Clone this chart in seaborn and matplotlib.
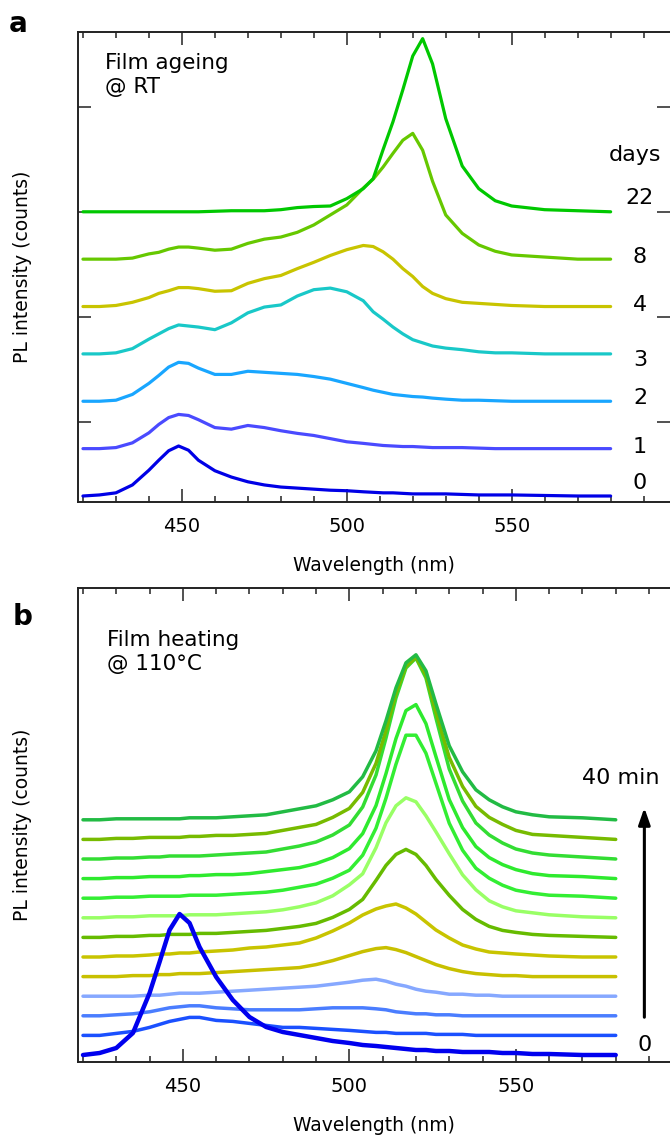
import numpy as np
import seaborn as sns
import matplotlib.pyplot as plt
from matplotlib.ticker import MultipleLocator

# ---- panel a: film ageing at RT (PL counts above background) ----
WL_A = [420, 425, 430, 435, 440, 443, 446, 449, 452, 455, 460, 465, 470, 475, 480,
        485, 490, 495, 500, 505, 508, 511, 514, 517, 520, 523, 526, 530, 535, 540,
        545, 550, 560, 570, 580]
DAYS = ['0', '1', '2', '3', '4', '8', '22']
DAY0 = [0, 10, 30, 105, 245, 340, 430, 475, 435, 340, 240, 180, 135, 105, 85,
        75, 65, 55, 50, 40, 35, 30, 30, 25, 20, 20, 20, 20, 15, 10, 10, 10, 5, 0, 0]
DAY1 = [0, 0, 10, 55, 150, 230, 295, 325, 315, 275, 200, 185, 220, 200, 170,
        145, 125, 95, 65, 50, 40, 30, 25, 20, 20, 15, 10, 10, 10, 5, 0, 0, 0, 0, 0]
DAY2 = [0, 0, 10, 65, 170, 245, 325, 370, 360, 315, 255, 255, 285, 275, 265,
        255, 235, 210, 170, 130, 105, 85, 65, 55, 45, 40, 30, 20, 10, 10, 5, 0, 0, 0, 0]
DAY3 = [0, 0, 10, 50, 140, 190, 240, 275, 265, 255, 230, 295, 390, 445, 465,
        550, 610, 625, 590, 505, 400, 330, 255, 190, 135, 105, 75, 55, 40, 20, 10, 10, 0, 0, 0]
DAY4 = [0, 0, 10, 40, 85, 125, 150, 180, 180, 170, 145, 150, 220, 265, 295,
        360, 420, 485, 540, 580, 570, 520, 450, 360, 285, 190, 125, 75, 40, 30, 20, 10, 0, 0, 0]
DAY8 = [0, 0, 0, 10, 50, 65, 95, 115, 115, 105, 85, 95, 150, 190, 210,
        255, 325, 420, 515, 675, 760, 875, 1005, 1130, 1195, 1035, 740, 420, 245, 135, 75, 40, 20, 0, 0]
DAY22 = [0, 0, 0, 0, 0, 0, 0, 0, 0, 0, 5, 10, 10, 10, 20,
         40, 50, 55, 125, 220, 315, 590, 855, 1160, 1480, 1645, 1405, 885, 435, 220, 105, 55, 20, 10, 0]
SPEC_A = [DAY0, DAY1, DAY2, DAY3, DAY4, DAY8, DAY22]
COLORS_A = ['#0000e6', '#4a4aff', '#19a6ff', '#19c8c8', '#c8c400', '#66c800', '#00c800']

# ---- panel b: film heating at 110 C, 0 -> 40 min ----
WL_B = [420, 425, 430, 435, 440, 443, 446, 449, 452, 455, 460, 465, 470, 475, 480,
        485, 490, 495, 500, 504, 508, 511, 514, 517, 520, 523, 526, 530, 534, 538,
        542, 546, 550, 555, 560, 570, 580]
HEAT = [
    [0, 20, 70, 220, 620, 930, 1250, 1410, 1320, 1080, 780, 550, 380, 280, 230, 200, 170, 140, 120,
     100, 90, 80, 70, 60, 50, 50, 40, 40, 30, 30, 30, 20, 20, 10, 10, 0, 0],
    [0, 0, 20, 40, 80, 110, 140, 160, 180, 180, 150, 140, 120, 100, 80, 80, 70, 60, 50,
     40, 30, 30, 20, 20, 20, 20, 10, 10, 10, 0, 0, 0, 0, 0, 0, 0, 0],
    [0, 0, 10, 20, 40, 60, 80, 90, 100, 100, 80, 70, 60, 60, 60, 60, 70, 80, 80,
     80, 70, 60, 40, 30, 20, 20, 10, 10, 0, 0, 0, 0, 0, 0, 0, 0, 0],
    [0, 0, 0, 0, 10, 10, 20, 30, 30, 30, 40, 50, 60, 70, 80, 90, 100, 120, 140,
     160, 170, 150, 120, 100, 70, 50, 40, 20, 20, 10, 10, 0, 0, 0, 0, 0, 0],
    [0, 0, 0, 10, 10, 20, 20, 30, 30, 30, 40, 50, 60, 70, 80, 90, 120, 160, 210,
     250, 280, 290, 270, 240, 200, 160, 120, 80, 50, 30, 20, 10, 10, 0, 0, 0, 0],
    [0, 0, 10, 10, 20, 30, 30, 40, 40, 50, 60, 70, 90, 100, 120, 140, 190, 260, 340,
     420, 480, 510, 530, 490, 430, 350, 270, 190, 120, 80, 50, 40, 30, 20, 10, 0, 0],
    [0, 0, 10, 10, 20, 20, 30, 30, 30, 40, 40, 50, 60, 70, 90, 110, 140, 200, 280,
     380, 570, 720, 830, 880, 830, 720, 580, 420, 280, 180, 110, 70, 50, 30, 20, 10, 0],
    [0, 0, 10, 10, 20, 20, 20, 20, 30, 30, 30, 40, 50, 60, 80, 110, 150, 220, 330,
     440, 700, 950, 1120, 1200, 1160, 1020, 860, 640, 430, 280, 170, 110, 70, 50, 30, 10, 0],
    [0, 0, 10, 10, 20, 20, 20, 20, 30, 30, 30, 40, 50, 60, 80, 110, 140, 200, 280,
     430, 700, 1000, 1340, 1630, 1630, 1450, 1150, 750, 480, 300, 200, 130, 80, 50, 30, 20, 0],
    [0, 0, 10, 10, 20, 20, 20, 20, 30, 30, 40, 40, 50, 70, 90, 110, 150, 210, 300,
     450, 730, 1050, 1400, 1680, 1740, 1550, 1220, 790, 510, 320, 210, 140, 90, 50, 30, 20, 0],
    [0, 0, 10, 10, 20, 20, 30, 30, 30, 30, 40, 50, 60, 70, 100, 130, 170, 240, 340,
     520, 840, 1210, 1610, 1910, 2010, 1810, 1410, 900, 580, 360, 240, 160, 100, 60, 40, 20, 0],
    [0, 0, 10, 10, 20, 20, 20, 20, 30, 30, 40, 40, 50, 60, 90, 120, 150, 220, 310,
     470, 760, 1090, 1460, 1730, 1820, 1640, 1270, 820, 530, 330, 220, 150, 90, 50, 40, 20, 0],
    [0, 0, 10, 10, 10, 10, 10, 10, 20, 20, 20, 30, 40, 50, 80, 110, 140, 200, 280,
     430, 690, 990, 1320, 1570, 1650, 1490, 1160, 740, 480, 300, 200, 130, 80, 50, 30, 20, 0],
]
COLORS_B = ['#0000ee', '#1a50ff', '#4a7dff', '#86a8ff', '#c8c000', '#c8c400', '#66bb00',
            '#99ff66', '#33ee33', '#2eea2e', '#33dd33', '#77bb00', '#22bb44']

# layout
BASE_A, STEP_A = 300, 450
STEP_B = 196
LABEL_NUDGE = [120, 15, 30, -60, 15, 20, 130]

sns.set_style('ticks')
plt.rcParams['font.family'] = ['DejaVu Sans']
plt.rcParams['text.color'] = 'black'
plt.rcParams['axes.labelcolor'] = 'black'
plt.rcParams['xtick.color'] = 'black'
plt.rcParams['ytick.color'] = 'black'

fig = plt.figure(figsize=(6.7, 11.38), dpi=100)
ax_a = fig.add_axes([78 / 670, 1 - 502 / 1138, 592 / 670, 470 / 1138])
ax_b = fig.add_axes([78 / 670, 1 - 1062 / 1138, 592 / 670, 474 / 1138])

for i, (vals, col) in enumerate(zip(SPEC_A, COLORS_A)):
    y = np.array(vals) + BASE_A + i * STEP_A
    sns.lineplot(x=WL_A, y=y, color=col, lw=2.3, solid_joinstyle='round', ax=ax_a)
    ax_a.text(588.9, BASE_A + i * STEP_A + LABEL_NUDGE[i], DAYS[i], fontsize=16,
              ha='center', va='center')
ax_a.text(587.4, 3540, 'days', fontsize=16, ha='center', va='center')

order = list(range(1, len(HEAT))) + [0]
for i in order:
    y = np.array(HEAT[i]) + i * STEP_B
    sns.lineplot(x=WL_B, y=y, color=COLORS_B[i], lw=3.2 if i == 0 else 2.5,
                 solid_joinstyle='round', ax=ax_b)

ax_b.annotate('', xy=(588.6, 2500), xytext=(588.6, 350),
              arrowprops=dict(arrowstyle='-|>,head_length=1.0,head_width=0.35',
                              lw=2.2, color='black'))
ax_b.text(581.5, 2770, '40 min', fontsize=16, ha='center', va='center')
ax_b.text(588.6, 100, '0', fontsize=16, ha='center', va='center')

ax_a.text(0.046, 0.955, 'Film ageing\n@ RT', transform=ax_a.transAxes, fontsize=15.5,
          va='top', ha='left', linespacing=1.25)
ax_b.text(0.049, 0.912, 'Film heating\n@ 110°C', transform=ax_b.transAxes, fontsize=15.5,
          va='top', ha='left', linespacing=1.25)

ax_a.set_xlim(418.5, 598)
ax_a.set_ylim(243, 4708)
ax_b.set_xlim(418.5, 596.3)
ax_b.set_ylim(-70, 4670)

for ax in (ax_a, ax_b):
    ax.xaxis.set_major_locator(MultipleLocator(50))
    ax.xaxis.set_minor_locator(MultipleLocator(10))
    ax.tick_params(axis='x', which='both', direction='in', top=True, bottom=True,
                   labelsize=14, pad=11, color='#222222')
    ax.tick_params(axis='x', which='major', length=9.5, width=1.1)
    ax.tick_params(axis='x', which='minor', length=4.5, width=1.1)
    ax.set_xlabel('Wavelength (nm)', fontsize=13.5, labelpad=14)
    ax.set_ylabel('PL intensity (counts)', fontsize=13.5)
    ax.yaxis.set_label_coords(-0.077, 0.5)
    for side in ('left', 'top', 'bottom'):
        ax.spines[side].set_linewidth(1.4)
        ax.spines[side].set_color('#222222')
    ax.spines['right'].set_visible(False)

ax_a.yaxis.set_major_locator(MultipleLocator(1000))
ax_a.tick_params(axis='y', which='major', direction='in', left=True, right=True,
                 length=9.5, width=1.1, labelleft=False, color='#222222')
ax_b.tick_params(axis='y', which='both', left=False, right=False, labelleft=False)

fig.text(0.027, 1 - 24 / 1138, 'a', fontsize=20, fontweight='bold', ha='center', va='center')
fig.text(0.034, 1 - 617 / 1138, 'b', fontsize=20, fontweight='bold', ha='center', va='center')

plt.savefig('out.png', dpi=100)
